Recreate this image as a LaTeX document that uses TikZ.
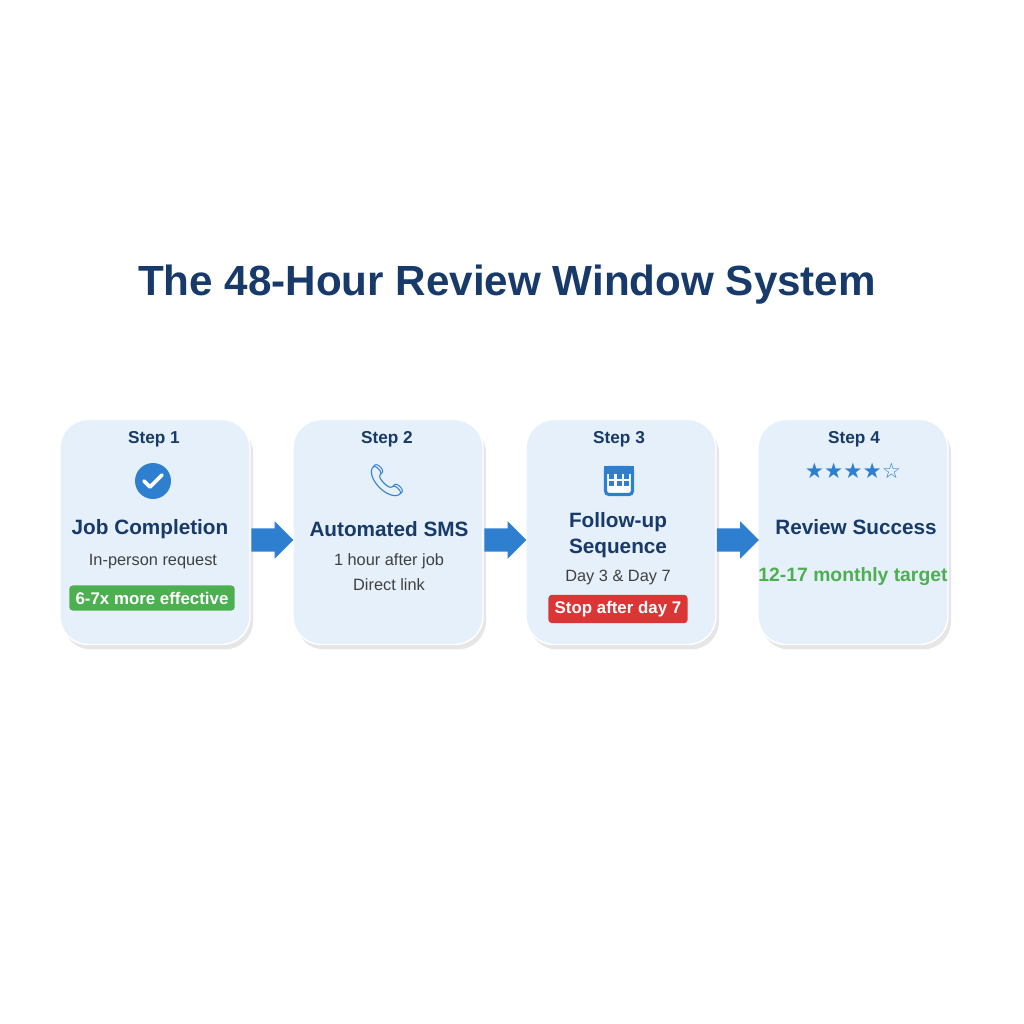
\documentclass[tikz,border=0pt]{standalone}
\usepackage{fontspec}
\setmainfont{Liberation Sans}
\newfontfamily\symfont{DejaVu Sans}
\newfontfamily\emojifont{Noto Emoji}
\usetikzlibrary{positioning,shapes.arrows,shadows,calc}
\definecolor{titleColor}{RGB}{23,58,107}
\definecolor{cardColor}{RGB}{230,240,250}
\definecolor{iconColor}{RGB}{47,127,208}
\definecolor{goodColor}{RGB}{76,175,80}
\definecolor{stopColor}{RGB}{220,53,53}

\begin{document}
\begin{tikzpicture}[
card/.style={
    draw=white, fill=cardColor, rounded corners=8pt, minimum width=1.9cm,
    minimum height=2.25cm, drop shadow={opacity=0.2, shadow xshift=0.03cm,
    shadow yshift=-0.05cm}
},
stepLabel/.style={font=\bfseries\fontsize{4.9}{6}\selectfont, text=titleColor},
cardTitle/.style={font=\bfseries\fontsize{5.9}{7.6}\selectfont, text=titleColor,
    align=center},
cardText/.style={font=\fontsize{4.65}{7.2}\selectfont, text=black!75,
    align=center},
badge/.style={fill=#1, rounded corners=1pt, text=white,
    font=\bfseries\fontsize{4.8}{6}\selectfont, inner sep=1.8pt},
flowArrow/.style={single arrow, fill=iconColor, minimum height=0.42cm,
    inner sep=0.11cm, single arrow head extend=0.07cm}
]
\useasboundingbox (0,0) rectangle (10.24,10.24);

\node[font=\bfseries\fontsize{12}{14}\selectfont, text=titleColor]
    (title) at (5.07,7.39) {The 48-Hour Review Window System};

% Cards
\foreach \n/\x in {1/1.55, 2/3.88, 3/6.21, 4/8.53}
    \node[card] (card\n) at (\x,4.92) {};

% Step 1
\node[stepLabel] at (1.54,5.85) (step1) {Step 1};
\node[circle, fill=iconColor, minimum size=0.36cm, inner sep=0pt]
    at (1.53,5.43) (check1) {};
\draw[white, line width=1.1pt, line cap=round, line join=round]
    ([shift={(-0.09,0.0)}]check1.center) -- ++(0.06,-0.06) -- ++(0.12,0.12);
\node[cardTitle] at (1.5,4.95) (title1) {Job Completion};
\node[cardText] at (1.53,4.62) (text1) {In-person request};
\node[badge=goodColor] at (1.52,4.26) (badge1) {6-7x more effective};

% Step 2
\node[stepLabel] at (3.87,5.85) (step2) {Step 2};
\node[text=iconColor, font=\emojifont\fontsize{9}{10}\selectfont]
    at (3.87,5.43) (phone2) {📞};
\node[cardTitle] at (3.89,4.95) (title2) {Automated SMS};
\node[cardText] at (3.89,4.52) (text2) {1 hour after job\\Direct link};

% Step 3
\node[stepLabel] at (6.19,5.85) (step3) {Step 3};
\node[draw=iconColor, fill=white, line width=0.9pt, rounded corners=1pt,
    minimum width=0.27cm, minimum height=0.27cm, inner sep=0pt]
    at (6.19,5.43) (cal3) {};
\fill[iconColor] (cal3.north west) rectangle ([yshift=-0.08cm]cal3.north east);
\foreach \i in {-1,0,1}
    \foreach \j in {0,1}
        \fill[iconColor] ([shift={(\i*0.075-0.025,-0.13-\j*0.07)}]cal3.north)
            rectangle ++(0.05,0.045);
\node[cardTitle] at (6.18,4.89) (title3) {Follow-up\\Sequence};
\node[cardText] at (6.18,4.47) (text3) {Day 3 \& Day 7};
\node[badge=stopColor] at (6.18,4.15) (badge3) {Stop after day 7};

% Step 4
\node[stepLabel] at (8.54,5.85) (step4) {Step 4};
\node[text=iconColor, font=\symfont\fontsize{6.1}{7}\selectfont]
    at (8.53,5.53) (stars4) {★★★★☆};
\node[cardTitle] at (8.56,4.97) (title4) {Review Success};
\node[text=goodColor, font=\bfseries\fontsize{5.5}{7}\selectfont]
    at (8.53,4.47) (text4) {12-17 monthly target};

% Arrows
\foreach \a/\b in {card1/card2, card2/card3, card3/card4}
    \node[flowArrow] at ($(\a.east)!0.5!(\b.west)+(-0.05,-0.08)$) {};
\end{tikzpicture}
\end{document}
